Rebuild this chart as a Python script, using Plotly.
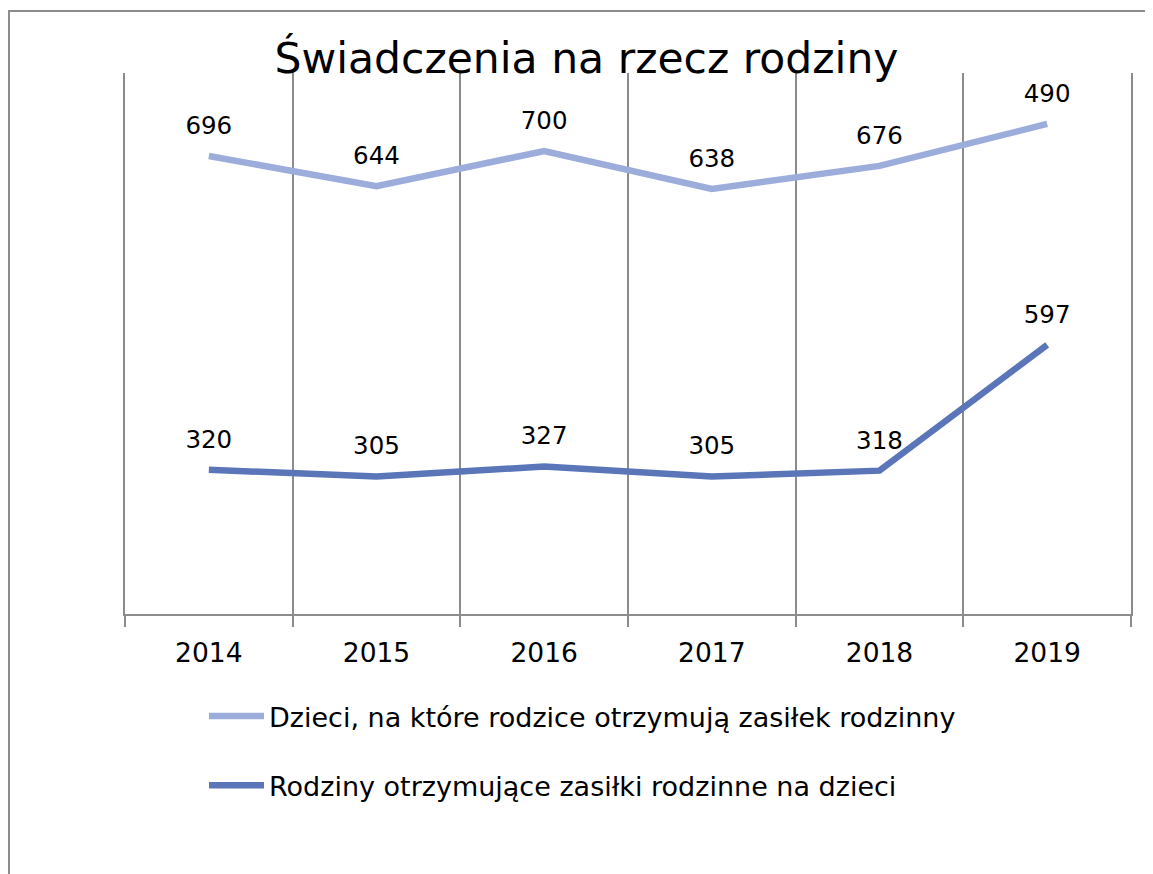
import plotly.graph_objects as go

years = ["2014", "2015", "2016", "2017", "2018", "2019"]
rodziny = [320, 305, 327, 305, 318, 597]
dzieci = [696, 644, 700, 638, 676, 490]

name_dzieci = "Dzieci, na które rodzice otrzymują zasiłek rodzinny"
name_rodziny = "Rodziny otrzymujące zasiłki rodzinne na dzieci"
title_text = "Świadczenia na rzecz rodziny"

FONT = "DejaVu Sans"
c_dark = "#5A76B9"
c_light = "#9CADDB"
grid_c = "#8C8C8C"

OFF = 8  # default page body margin
W, H = 1153 - OFF, 874 - OFF
L, T = 125 - OFF, 73 - OFF
R = W - (1131 - OFF)
B = H - (614 - OFF)
pw, ph = W - L - R, H - T - B

fig = go.Figure()
fig.add_trace(go.Scatter(
    x=years, y=rodziny, name=name_rodziny, stackgroup="s", fill="none",
    mode="lines+text+markers", text=[str(v) for v in rodziny],
    textposition="top center", textfont=dict(family=FONT, size=24.5, color="#000"),
    line=dict(color=c_dark, width=6.5),
    marker=dict(size=24, color="rgba(0,0,0,0)"),
    legendrank=2, legendgroup="b", hoverinfo="skip",
))
fig.add_trace(go.Scatter(
    x=years, y=dzieci, name=name_dzieci, stackgroup="s", fill="none",
    mode="lines+text+markers", text=[str(v) for v in dzieci],
    textposition="top center", textfont=dict(family=FONT, size=24.5, color="#000"),
    line=dict(color=c_light, width=6.5),
    marker=dict(size=24, color="rgba(0,0,0,0)"),
    legendrank=1, legendgroup="a", hoverinfo="skip",
))

fig.update_layout(
    width=W, height=H,
    margin=dict(l=L, r=R, t=T, b=B, autoexpand=False),
    paper_bgcolor="white", plot_bgcolor="white",
    font=dict(family=FONT, size=24, color="#000"),
    title=dict(text=title_text, x=(586.5 - OFF) / W, xanchor="center",
               y=1 - 50 / H, yanchor="middle", xref="container", yref="container",
               font=dict(family=FONT, size=42.5, color="#000")),
    showlegend=True,
    legend=dict(xref="container", yref="container", x=(204 - OFF) / W, y=1 - 684 / H,
                xanchor="left", yanchor="top", traceorder="grouped",
                tracegroupgap=31, font=dict(family=FONT, size=27, color="#000"),
                bgcolor="rgba(0,0,0,0)", itemwidth=55),
    xaxis=dict(type="category", tickson="boundaries", showgrid=True,
               gridcolor=grid_c, gridwidth=2, showline=True, linecolor=grid_c,
               linewidth=2, ticks="outside", ticklen=11, tickwidth=2,
               tickcolor=grid_c, tickfont=dict(family=FONT, size=26.5, color="#000"),
               ticklabelstandoff=14,
               range=[-0.5, 5.5], zeroline=False, fixedrange=True),
    yaxis=dict(range=[0, 1200], showgrid=False, showticklabels=False,
               zeroline=False, showline=True, mirror=True, linecolor=grid_c,
               linewidth=2, ticks="", fixedrange=True),
    shapes=[dict(type="rect", xref="paper", yref="paper",
                 x0=(1 - L) / pw, x1=1.2, y0=-1.0, y1=(606 - 3) / ph,
                 line=dict(color=grid_c, width=2), fillcolor="rgba(0,0,0,0)",
                 layer="above")],
)

fig.write_html("out.html")
